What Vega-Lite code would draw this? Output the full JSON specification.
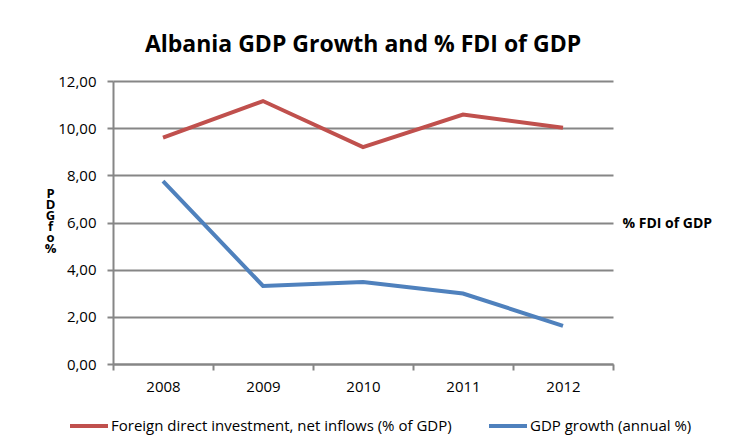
{
  "$schema": "https://vega.github.io/schema/vega-lite/v6.json",
  "autosize": {"type": "none"},
  "padding": {"left": 113, "top": 81, "right": 119, "bottom": 80},
  "width": 500,
  "height": 283,
  "background": "white",
  "title": {
    "text": "Albania GDP Growth and % FDI of GDP",
    "font": "Open Sans",
    "fontSize": 23,
    "fontWeight": "bold",
    "color": "black",
    "anchor": "middle",
    "baseline": "bottom",
    "offset": -6
  },
  "data": {
    "values": [
      {"year": "2008", "series": "Foreign direct investment,  net inflows (% of GDP)", "value": 9.60},
      {"year": "2009", "series": "Foreign direct investment,  net inflows (% of GDP)", "value": 11.15},
      {"year": "2010", "series": "Foreign direct investment,  net inflows (% of GDP)", "value": 9.20},
      {"year": "2011", "series": "Foreign direct investment,  net inflows (% of GDP)", "value": 10.58},
      {"year": "2012", "series": "Foreign direct investment,  net inflows (% of GDP)", "value": 10.02},
      {"year": "2008", "series": "GDP growth (annual %)", "value": 7.75},
      {"year": "2009", "series": "GDP growth (annual %)", "value": 3.31},
      {"year": "2010", "series": "GDP growth (annual %)", "value": 3.48},
      {"year": "2011", "series": "GDP growth (annual %)", "value": 2.99},
      {"year": "2012", "series": "GDP growth (annual %)", "value": 1.62}
    ]
  },
  "layer": [
    {
      "mark": {"type": "line", "strokeWidth": 4},
      "encoding": {
        "x": {
          "field": "year",
          "type": "ordinal",
          "bandPosition": 0.5,
          "scale": {"type": "band", "paddingInner": 0, "paddingOuter": 0},
          "axis": {
            "title": null,
            "labelAngle": 0,
            "tickBand": "extent",
            "grid": false,
            "domainColor": "#868686",
            "domainWidth": 2,
            "tickColor": "#868686",
            "tickWidth": 2,
            "tickSize": 6,
            "labelPadding": 9
          }
        },
        "y": {
          "field": "value",
          "type": "quantitative",
          "scale": {"domain": [0, 12], "nice": false},
          "axis": {
            "values": [0, 2, 4, 6, 8, 10, 12],
            "labelExpr": "replace(format(datum.value, '.2f'), '.', ',')",
            "grid": true,
            "gridColor": "#868686",
            "gridWidth": 2,
            "domainColor": "#868686",
            "domainWidth": 2,
            "tickColor": "#868686",
            "tickWidth": 2,
            "tickSize": 6,
            "labelPadding": 11,
            "title": ["P", "D", "G", "f", "o", "%"],
            "titleAngle": 0,
            "titleAlign": "center",
            "titleBaseline": "top",
            "titleX": -63,
            "titleY": 106,
            "titleLineHeight": 11,
            "titleFont": "Open Sans",
            "titleFontSize": 13,
            "titleFontWeight": "bold",
            "titleColor": "black"
          }
        },
        "color": {
          "field": "series",
          "type": "nominal",
          "scale": {
            "domain": ["Foreign direct investment,  net inflows (% of GDP)", "GDP growth (annual %)"],
            "range": ["#C0504D", "#4F81BD"]
          },
          "legend": {
            "title": null,
            "orient": "none",
            "direction": "horizontal",
            "legendX": -45,
            "legendY": 324,
            "symbolType": "stroke",
            "symbolSize": 1444,
            "symbolStrokeWidth": 4,
            "labelOffset": 1,
            "columnPadding": 25,
            "labelFont": "Open Sans",
            "labelFontSize": 15,
            "labelColor": "black",
            "labelLimit": 500
          }
        }
      }
    },
    {
      "mark": {"type": "line", "opacity": 0},
      "encoding": {
        "x": {"field": "year", "type": "ordinal", "bandPosition": 0.5},
        "y": {
          "field": "value",
          "type": "quantitative",
          "axis": {
            "orient": "right",
            "labels": false,
            "ticks": false,
            "domain": false,
            "grid": false,
            "title": "% FDI of GDP",
            "titleAngle": 0,
            "titleAlign": "left",
            "titleBaseline": "middle",
            "titleX": 9,
            "titleY": 142,
            "titleFont": "Open Sans",
            "titleFontSize": 14,
            "titleFontWeight": "bold",
            "titleColor": "black"
          }
        }
      }
    }
  ],
  "resolve": {"axis": {"y": "independent"}},
  "config": {
    "view": {"stroke": null},
    "axis": {"labelFont": "Open Sans", "labelFontSize": 15, "labelColor": "black"}
  }
}
